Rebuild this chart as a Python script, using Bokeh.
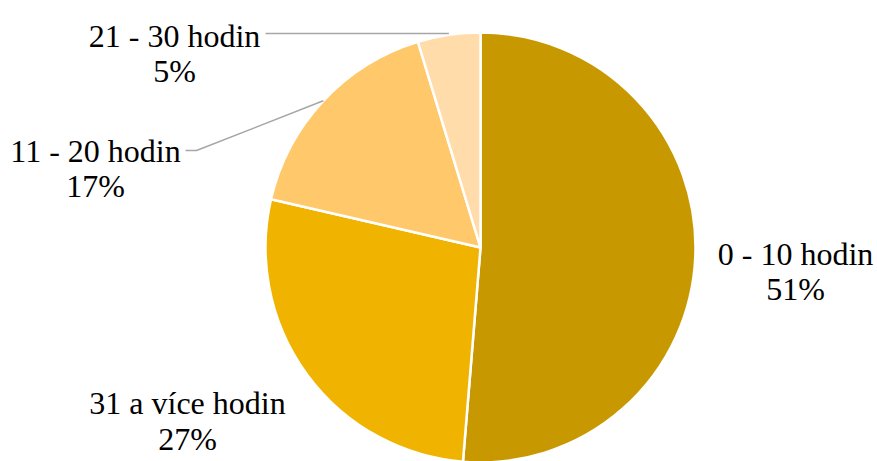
import math
from bokeh.plotting import figure
from bokeh.models import Range1d
from bokeh.core.properties import value
from bokeh.embed import file_html
from bokeh.resources import INLINE

# ---- data ----
categories = ["0 - 10 hodin", "31 a více hodin", "11 - 20 hodin", "21 - 30 hodin"]
shares = [51.3, 27.3, 16.7, 4.7]
colors = ["#C89800", "#F0B400", "#FFC96B", "#FFDCAA"]

# ---- layout (pixel coords, top-left origin) ----
W, H = 877, 461
CX, CY, R = 480, 247, 215
FONT = "'Liberation Serif', serif"
label_pos = {  # (x center, baseline of name, baseline of percent)
    "0 - 10 hodin": (795, 253, 288),
    "31 a více hodin": (187, 402, 438),
    "11 - 20 hodin": (95, 150, 185),
    "21 - 30 hodin": (174, 35, 70),
}
leader_start = {
    "11 - 20 hodin": [(185, 150), (196, 150)],
    "21 - 30 hodin": [(265, 33)],
}

def fy(y):
    return H - y

p = figure(width=W, height=H, x_range=Range1d(0, W), y_range=Range1d(0, H),
           min_border=0, toolbar_location=None, output_backend="svg")
p.axis.visible = False
p.grid.visible = False
p.outline_line_color = None
p.background_fill_color = "white"
p.border_fill_color = "white"

total = sum(shares)
angle = math.pi / 2
mids = {}
for cat, v, c in zip(categories, shares, colors):
    span = v / total * 2 * math.pi
    a_end = angle
    a_start = angle - span
    p.wedge(x=CX, y=fy(CY), radius=R, start_angle=a_start, end_angle=a_end,
            fill_color=c, line_color="white", line_width=2.5)
    mids[cat] = (a_start + a_end) / 2
    angle = a_start

for cat, pts in leader_start.items():
    m = mids[cat]
    ex = CX + R * math.cos(m)
    ey = CY - R * math.sin(m)
    if cat == "21 - 30 hodin":
        ey = pts[0][1]
    xs = [pt[0] for pt in pts] + [ex]
    ys = [fy(pt[1]) for pt in pts] + [fy(ey)]
    p.line(xs, ys, line_color="#A6A6A6", line_width=1.5)

for cat, v in zip(categories, shares):
    x, b1, b2 = label_pos[cat]
    for txt, b in ((cat, b1), (f"{round(v)}%", b2)):
        p.text(x=[x], y=[fy(b)], text=[txt], text_align="center",
               text_baseline="alphabetic", text_font=value(FONT),
               text_font_size="32px", text_color="black")

open("out.html", "w").write(file_html(p, INLINE))
